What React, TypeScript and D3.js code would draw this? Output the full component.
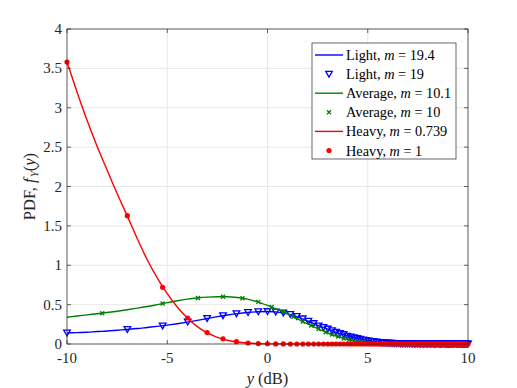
import React from 'react';
import * as d3 from 'd3';

// dB grid used for the smooth curves
const lineDb = [
  -10, -9.5, -9, -8.5, -8, -7.5, -7, -6.5, -6, -5.5, -5, -4.5, -4, -3.5, -3, -2.5, -2, -1.5, -1, -0.5,
  0, 0.5, 1, 1.5, 2, 2.5, 3, 3.5, 4, 4.5, 5, 5.5, 6, 6.5, 7, 7.5, 8, 8.5, 9, 9.5, 10,
];
const lightLine = [
  0.14, 0.145, 0.15, 0.158, 0.165, 0.175, 0.185, 0.196, 0.21, 0.224, 0.24, 0.258, 0.278, 0.3, 0.324, 0.348, 0.368, 0.386, 0.4, 0.409,
  0.412, 0.405, 0.383, 0.345, 0.292, 0.237, 0.19, 0.142, 0.102, 0.068, 0.042, 0.024, 0.012, 0.006, 0.003, 0.0015, 0.001, 0.0005, 0, 0, 0,
];
const averageLine = [
  0.34, 0.355, 0.37, 0.385, 0.4, 0.416, 0.435, 0.455, 0.476, 0.5, 0.525, 0.55, 0.57, 0.585, 0.595, 0.6, 0.6, 0.59, 0.57, 0.535,
  0.49, 0.44, 0.385, 0.32, 0.255, 0.195, 0.14, 0.095, 0.055, 0.028, 0.012, 0.005, 0.002, 0.001, 0, 0, 0, 0, 0, 0, 0,
];
const heavyLine = [
  3.58, 3.2, 2.84, 2.51, 2.21, 1.91, 1.63, 1.34, 1.07, 0.84, 0.64, 0.47, 0.33, 0.22, 0.14, 0.085, 0.048, 0.025, 0.012, 0.005,
  0.002, 0.001, 0, 0, 0, 0, 0, 0, 0, 0, 0, 0, 0, 0, 0, 0, 0, 0, 0, 0, 0,
];

// marker positions (dB) for Light and Heavy simulations
const markerDb = [
  -10, -6.99, -5.23, -3.98, -3.01, -2.22, -1.55, -0.97, -0.46, 0,
  0.41, 0.79, 1.14, 1.46, 1.76, 2.04, 2.3, 2.55, 2.79, 3.01,
  3.22, 3.42, 3.62, 3.8, 3.98, 4.15, 4.31, 4.47, 4.62, 4.77,
  4.91, 5.05, 5.19, 5.31, 5.44, 5.56, 5.68, 5.8, 5.91, 6.02,
  6.13, 6.23, 6.33, 6.43, 6.53, 6.63, 6.72, 6.81, 6.9, 6.99,
  7.08, 7.16, 7.24, 7.32, 7.4, 7.48, 7.56, 7.63, 7.71, 7.78,
  7.85, 7.92, 7.99, 8.06, 8.13, 8.2, 8.26, 8.33, 8.39, 8.45,
  8.51, 8.57, 8.63, 8.69, 8.75, 8.81, 8.87, 8.92, 8.98, 9.03,
  9.08, 9.14, 9.19, 9.24, 9.29, 9.34, 9.4, 9.44, 9.49, 9.54,
  9.59, 9.64, 9.68, 9.73, 9.78, 9.82, 9.87, 9.91, 9.96, 10,
];
const lightMarkers = [
  0.14, 0.185, 0.23, 0.28, 0.325, 0.36, 0.385, 0.4, 0.41, 0.412,
  0.408, 0.395, 0.375, 0.35, 0.32, 0.29, 0.26, 0.23, 0.21, 0.19,
  0.17, 0.15, 0.135, 0.12, 0.1, 0.09, 0.08, 0.07, 0.06, 0.052,
  0.045, 0.039, 0.033, 0.029, 0.025, 0.021, 0.018, 0.016, 0.014, 0.012,
  0.01, 0.009, 0.008, 0.007, 0.006, 0.005, 0.0045, 0.004, 0.0035, 0.003,
  0.0028, 0.0025, 0.0023, 0.0021, 0.0019, 0.0017, 0.0015, 0.0014, 0.0012, 0.0011,
  0.001, 0.0009, 0.0008, 0.0007, 0.0006, 0.0006, 0.0005, 0.0004, 0.0004, 0.0003,
  0.0003, 0.0003, 0.0002, 0.0002, 0.0002, 0.0001, 0.0001, 0.0001, 0, 0,
  0, 0, 0, 0, 0, 0, 0, 0, 0, 0,
  0, 0, 0, 0, 0, 0, 0, 0, 0, 0,
];
const heavyMarkers = [
  3.58, 1.63, 0.72, 0.33, 0.145, 0.066, 0.029, 0.013, 0.006, 0.003,
  0.001, 0.001, 0, 0, 0, 0, 0, 0, 0, 0,
  0, 0, 0, 0, 0, 0, 0, 0, 0, 0,
  0, 0, 0, 0, 0, 0, 0, 0, 0, 0,
  0, 0, 0, 0, 0, 0, 0, 0, 0, 0,
  0, 0, 0, 0, 0, 0, 0, 0, 0, 0,
  0, 0, 0, 0, 0, 0, 0, 0, 0, 0,
  0, 0, 0, 0, 0, 0, 0, 0, 0, 0,
  0, 0, 0, 0, 0, 0, 0, 0, 0, 0,
  0, 0, 0, 0, 0, 0, 0, 0, 0, 0,
];

// marker positions (dB) for Average simulation
const averageDb = [
  -8.24, -5.23, -3.47, -2.22, -1.25, -0.46, 0.21, 0.79, 1.3, 1.76,
  2.18, 2.55, 2.9, 3.22, 3.52, 3.8, 4.07, 4.31, 4.55, 4.77,
  4.98, 5.19, 5.38, 5.56, 5.74, 5.91, 6.08, 6.23, 6.39, 6.53,
  6.68, 6.81, 6.95, 7.08, 7.2, 7.32, 7.44, 7.56, 7.67, 7.78,
  7.89, 7.99, 8.1, 8.2, 8.29, 8.39, 8.48, 8.57, 8.66, 8.75,
  8.84, 8.92, 9.0, 9.09, 9.17, 9.24, 9.32, 9.4, 9.47, 9.54,
  9.61, 9.69, 9.75, 9.82, 9.89, 9.96,
];
const averageMarkers = [
  0.39, 0.515, 0.585, 0.6, 0.58, 0.535, 0.47, 0.41, 0.345, 0.285,
  0.235, 0.19, 0.15, 0.12, 0.095, 0.07, 0.05, 0.037, 0.027, 0.019,
  0.013, 0.009, 0.006, 0.004, 0.003, 0.002, 0.001, 0.001, 0, 0,
  0, 0, 0, 0, 0, 0, 0, 0, 0, 0,
  0, 0, 0, 0, 0, 0, 0, 0, 0, 0,
  0, 0, 0, 0, 0, 0, 0, 0, 0, 0,
  0, 0, 0, 0, 0, 0,
];

const xTicks = [-10, -5, 0, 5, 10];
const yTicks = [0, 0.5, 1, 1.5, 2, 2.5, 3, 3.5, 4];

const legendItems = [
  { label: 'Light', m: '19.4', color: '#0000ff', kind: 'line' },
  { label: 'Light', m: '19', color: '#0000ff', kind: 'tri' },
  { label: 'Average', m: '10.1', color: '#008000', kind: 'line' },
  { label: 'Average', m: '10', color: '#008000', kind: 'x' },
  { label: 'Heavy', m: '0.739', color: '#ff0000', kind: 'line' },
  { label: 'Heavy', m: '1', color: '#ff0000', kind: 'dot' },
];

const W = 517;
const H = 388;
const margin = { top: 29, right: 49, bottom: 44, left: 67 };
const font = '"Liberation Serif", "DejaVu Serif", serif';
const axisColor = '#262626';

const Marker = ({ kind, color, x, y }: { kind: string; color: string; x: number; y: number }) => {
  if (kind === 'tri')
    return (
      <path d={`M${x - 3.3},${y - 2.8}L${x + 3.3},${y - 2.8}L${x},${y + 3}Z`} fill="none" stroke={color} strokeWidth={1.3} />
    );
  if (kind === 'x')
    return (
      <path d={`M${x - 2},${y - 2}L${x + 2},${y + 2}M${x - 2},${y + 2}L${x + 2},${y - 2}`} stroke={color} strokeWidth={1.3} />
    );
  return <circle cx={x} cy={y} r={2.6} fill={color} />;
};

export default function App() {
  const x = d3.scaleLinear().domain([-10, 10]).range([margin.left, W - margin.right]);
  const y = d3.scaleLinear().domain([0, 4]).range([H - margin.bottom, margin.top]);

  const line = d3
    .line<number>()
    .x((_, i) => x(lineDb[i]))
    .y((d) => y(d))
    .curve(d3.curveMonotoneX);

  const x0 = margin.left;
  const x1 = W - margin.right;
  const y0 = H - margin.bottom;
  const y1 = margin.top;

  const lg = { x: 312, y: 43, w: 144, h: 116, row: 19.1, first: 55 };

  return (
    <svg width={W} height={H} style={{ position: 'absolute', left: 0, top: 0, background: '#fff' }} fontFamily={font}>
      <rect x={x0} y={y1} width={x1 - x0} height={y0 - y1} fill="#fff" />
      {/* grid */}
      {xTicks.map((t) => (
        <line key={'gx' + t} x1={x(t)} x2={x(t)} y1={y1} y2={y0} stroke="#e8e8e8" strokeWidth={1} />
      ))}
      {yTicks.map((t) => (
        <line key={'gy' + t} x1={x0} x2={x1} y1={y(t)} y2={y(t)} stroke="#e8e8e8" strokeWidth={1} />
      ))}

      {/* curves and markers, MATLAB plotting order */}
      <path d={line(lightLine) || ''} fill="none" stroke="#0000ff" strokeWidth={1.4} />
      {lightMarkers.map((v, i) => (
        <Marker key={'lm' + i} kind="tri" color="#0000ff" x={x(markerDb[i])} y={y(v)} />
      ))}
      <path d={line(averageLine) || ''} fill="none" stroke="#008000" strokeWidth={1.4} />
      {averageMarkers.map((v, i) => (
        <Marker key={'am' + i} kind="x" color="#008000" x={x(averageDb[i])} y={y(v)} />
      ))}
      <path d={line(heavyLine) || ''} fill="none" stroke="#ff0000" strokeWidth={1.4} />
      {heavyMarkers.map((v, i) => (
        <Marker key={'hm' + i} kind="dot" color="#ff0000" x={x(markerDb[i])} y={y(v)} />
      ))}

      {/* box + ticks */}
      <rect x={x0} y={y1} width={x1 - x0} height={y0 - y1} fill="none" stroke={axisColor} strokeWidth={0.7} />
      {xTicks.map((t) => (
        <g key={'tx' + t}>
          <line x1={x(t)} x2={x(t)} y1={y0} y2={y0 - 4} stroke={axisColor} strokeWidth={0.7} />
          <line x1={x(t)} x2={x(t)} y1={y1} y2={y1 + 4} stroke={axisColor} strokeWidth={0.7} />
          <text x={x(t)} y={y0 + 19} textAnchor="middle" fontSize={15} fill={axisColor}>
            {t < 0 ? '-' + Math.abs(t) : t}
          </text>
        </g>
      ))}
      {yTicks.map((t) => (
        <g key={'ty' + t}>
          <line x1={x0} x2={x0 + 4} y1={y(t)} y2={y(t)} stroke={axisColor} strokeWidth={0.7} />
          <line x1={x1} x2={x1 - 4} y1={y(t)} y2={y(t)} stroke={axisColor} strokeWidth={0.7} />
          <text x={x0 - 5} y={y(t) + 5} textAnchor="end" fontSize={15} fill={axisColor}>
            {t}
          </text>
        </g>
      ))}

      {/* axis labels */}
      <text x={(x0 + x1) / 2} y={384} textAnchor="middle" fontSize={16.5} fill={axisColor}>
        <tspan fontStyle="italic">y</tspan> (dB)
      </text>
      <text transform={`translate(35,${(y0 + y1) / 2}) rotate(-90)`} textAnchor="middle" fontSize={16.5} fill={axisColor}>
        PDF, <tspan fontStyle="italic">f</tspan>
        <tspan fontStyle="italic" fontSize={11} dy={3} dx={1}>Y</tspan>
        <tspan dy={-3}>(</tspan>
        <tspan fontStyle="italic">y</tspan>)
      </text>

      {/* legend */}
      <rect x={lg.x} y={lg.y} width={lg.w} height={lg.h} fill="#fff" stroke={axisColor} strokeWidth={0.7} />
      {legendItems.map((it, i) => {
        const cy = lg.first + i * lg.row;
        return (
          <g key={'lg' + i}>
            {it.kind === 'line' ? (
              <line x1={315} x2={343} y1={cy} y2={cy} stroke={it.color} strokeWidth={1.4} />
            ) : (
              <Marker kind={it.kind} color={it.color} x={329} y={cy} />
            )}
            <text x={346} y={cy + 5} fontSize={14.3} fill="#000">
              {it.label}, <tspan fontStyle="italic">m</tspan> = {it.m}
            </text>
          </g>
        );
      })}
    </svg>
  );
}
